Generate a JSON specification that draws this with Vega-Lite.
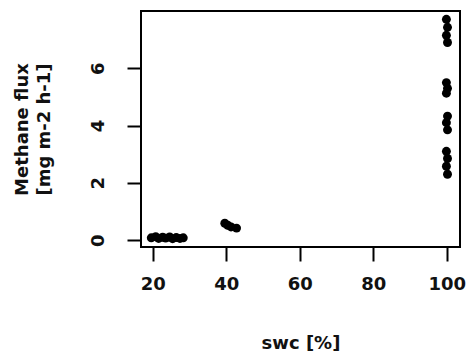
{
  "$schema": "https://vega.github.io/schema/vega-lite/v6.json",
  "autosize": {"type": "none"},
  "padding": {"left": 141, "top": 11, "right": 6, "bottom": 104},
  "width": 319,
  "height": 236,
  "background": "white",
  "config": {
    "view": {"stroke": "black", "strokeWidth": 2},
    "font": "DejaVu Sans",
    "axis": {
      "domain": false,
      "grid": false,
      "ticks": true,
      "tickColor": "black",
      "tickWidth": 2,
      "tickSize": 14,
      "labelFont": "DejaVu Sans",
      "labelFontWeight": "bold",
      "labelFontSize": 18,
      "labelColor": "#111",
      "titleFont": "DejaVu Sans",
      "titleFontWeight": "bold",
      "titleFontSize": 18,
      "titleColor": "#111"
    }
  },
  "data": {
    "values": [
      {"swc": 19.6, "flux": 0.08},
      {"swc": 20.8, "flux": 0.12},
      {"swc": 21.6, "flux": 0.06},
      {"swc": 22.7, "flux": 0.10},
      {"swc": 23.5, "flux": 0.07},
      {"swc": 24.6, "flux": 0.11},
      {"swc": 25.4, "flux": 0.05},
      {"swc": 26.4, "flux": 0.09},
      {"swc": 27.4, "flux": 0.06},
      {"swc": 28.3, "flux": 0.08},
      {"swc": 39.6, "flux": 0.59},
      {"swc": 40.4, "flux": 0.52},
      {"swc": 41.3, "flux": 0.46},
      {"swc": 42.8, "flux": 0.42},
      {"swc": 99.9, "flux": 7.71},
      {"swc": 100.2, "flux": 7.43},
      {"swc": 99.9, "flux": 7.15},
      {"swc": 100.2, "flux": 6.90},
      {"swc": 99.9, "flux": 5.50},
      {"swc": 100.2, "flux": 5.30},
      {"swc": 99.9, "flux": 5.13},
      {"swc": 100.2, "flux": 4.33},
      {"swc": 99.9, "flux": 4.10},
      {"swc": 100.2, "flux": 3.85},
      {"swc": 99.9, "flux": 3.10},
      {"swc": 100.2, "flux": 2.85},
      {"swc": 99.9, "flux": 2.58},
      {"swc": 100.2, "flux": 2.30}
    ]
  },
  "mark": {"type": "circle", "color": "black", "opacity": 1, "size": 80},
  "encoding": {
    "x": {
      "field": "swc",
      "type": "quantitative",
      "scale": {"domain": [16.8, 103.6], "nice": false, "zero": false},
      "axis": {
        "values": [20, 40, 60, 80, 100],
        "labelPadding": 14,
        "title": "swc [%]",
        "titlePadding": 41
      }
    },
    "y": {
      "field": "flux",
      "type": "quantitative",
      "scale": {"domain": [-0.24, 8.0], "nice": false, "zero": false},
      "axis": {
        "values": [0, 2, 4, 6],
        "labelAngle": -90,
        "labelAlign": "center",
        "labelBaseline": "bottom",
        "labelPadding": 20,
        "title": ["Methane flux", "[mg m-2 h-1]"],
        "titlePadding": 36,
        "titleLineHeight": 22
      }
    }
  }
}
